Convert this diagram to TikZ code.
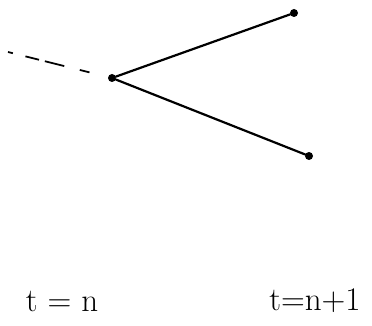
\documentclass[tikz,border=0pt]{standalone}
\usepackage{fontspec}
\begin{document}
\begin{tikzpicture}[x=1pt,y=-1pt,
  dot/.style={circle,fill=black,inner sep=0pt,minimum size=8pt},
  edge/.style={line width=2.2pt,line cap=round},
  past/.style={line width=1.8pt,dash pattern=on 5pt off 13pt on 14pt off 6pt on 20pt off 16pt on 10pt off 20pt},
  lab/.style={font=\fontsize{33}{38}\selectfont,inner sep=0pt}]
\useasboundingbox (0,0) rectangle (372,326);
\node[dot] (root) at (112,78) {};
\node[dot] (up) at (294,13) {};
\node[dot] (down) at (309,156) {};
\coordinate (start) at (8,52);
\draw[past] (start) -- (root);
\draw[edge] (root) -- (up);
\draw[edge] (root) -- (down);
\node[lab] (tn) at (62,301) {t = n};
\node[lab] (tn1) at (315,301) {t=n+1};
\end{tikzpicture}
\end{document}
